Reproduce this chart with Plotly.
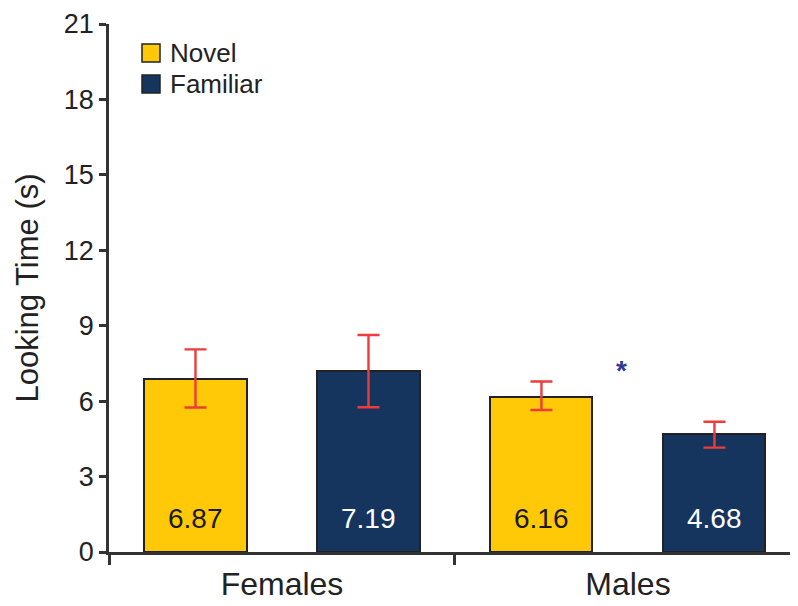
import plotly.graph_objects as go

groups = ["Females", "Males"]
conditions = ["Novel", "Familiar"]
novel_vals = [6.87, 6.16]
familiar_vals = [7.19, 4.68]
novel_err_plus = [1.19, 0.62]
novel_err_minus = [1.12, 0.51]
familiar_err_plus = [1.44, 0.50]
familiar_err_minus = [1.43, 0.53]
y_ticks = [0, 3, 6, 9, 12, 15, 18, 21]

# bar slot positions: group g -> novel at 2g+0.5, familiar at 2g+1.5
novel_x = [2 * i + 0.5 for i in range(len(groups))]
familiar_x = [2 * i + 1.5 for i in range(len(groups))]
group_x = [2 * i + 1 for i in range(len(groups))]

YELLOW = "#FFC907"
NAVY = "#15355F"
RED = "#EE3B3B"
OUTLINE = "#222222"
FONT = "Liberation Sans, Arial, sans-serif"

# page body has an 8px default margin
OFF = 8
W, H = 798 - OFF, 606 - OFF
ML, MR, MT = 109 - OFF, 0, 24 - OFF
PH = 528
MB = H - MT - PH
PW = W - ML - MR


def px_to_paper(xp, yp):
    return (xp - OFF - ML) / PW, (MT + PH - (yp - OFF)) / PH


fig = go.Figure()
err_style = dict(type="data", symmetric=False, color=RED, thickness=2.4, width=11)
fig.add_trace(go.Bar(
    x=novel_x, y=novel_vals, name=conditions[0], width=0.59, showlegend=False,
    marker=dict(color=YELLOW, line=dict(color=OUTLINE, width=2)),
    error_y=dict(array=novel_err_plus, arrayminus=novel_err_minus, **err_style),
))
fig.add_trace(go.Bar(
    x=familiar_x, y=familiar_vals, name=conditions[1], width=0.59, showlegend=False,
    marker=dict(color=NAVY, line=dict(color=OUTLINE, width=2)),
    error_y=dict(array=familiar_err_plus, arrayminus=familiar_err_minus, **err_style),
))
# invisible trace to activate xaxis2 labels
fig.add_trace(go.Scatter(x=group_x, y=[0, 0], xaxis="x2", mode="markers",
                         marker=dict(opacity=0), showlegend=False, hoverinfo="skip"))

# value labels near bar bases
for xs, vals, col in [(novel_x, novel_vals, "#1a1a1a"), (familiar_x, familiar_vals, "white")]:
    for xv, v in zip(xs, vals):
        fig.add_annotation(x=xv, y=1.35, text=f"{v:.2f}", showarrow=False,
                           font=dict(size=28, color=col, family=FONT),
                           xanchor="center", yanchor="middle")

# significance asterisk
fig.add_annotation(x=2.965, y=7.2, text="<b>*</b>", showarrow=False,
                   font=dict(size=28, color="#2B3A9C", family=FONT))

# custom legend (square swatches + labels)
shapes = []
for i, (name, col) in enumerate([(conditions[0], YELLOW), (conditions[1], NAVY)]):
    top = 44 + i * 31
    x0, y0 = px_to_paper(142, top + 18)
    x1, y1 = px_to_paper(160, top)
    shapes.append(dict(type="rect", xref="paper", yref="paper", x0=x0, x1=x1, y0=y0, y1=y1,
                       fillcolor=col, line=dict(color=OUTLINE, width=1.5)))
    tx, ty = px_to_paper(168, top + 9)
    fig.add_annotation(xref="paper", yref="paper", x=tx, y=ty, text=name, showarrow=False,
                       xanchor="left", yanchor="middle",
                       font=dict(size=26, family=FONT, color="#222222"))

fig.update_layout(
    width=W, height=H,
    margin=dict(l=ML, r=MR, t=MT, b=MB, autoexpand=False),
    paper_bgcolor="white", plot_bgcolor="white",
    font=dict(family=FONT, color="#222222"),
    showlegend=False,
    shapes=shapes,
    bargap=0,
    xaxis=dict(range=[0, 3.983], tickvals=[0, 2], ticktext=["", ""], automargin=False,
               showline=True, linecolor="#333333", linewidth=2.5,
               ticks="outside", ticklen=10, tickwidth=2.5, tickcolor="#333333",
               showgrid=False, zeroline=False, fixedrange=True),
    xaxis2=dict(range=[0, 3.983], overlaying="x", side="bottom", anchor="y",
                tickvals=group_x, ticktext=groups, ticks="", automargin=False,
                ticklabelstandoff=10,
                showline=False, showgrid=False, zeroline=False,
                tickfont=dict(size=32, family=FONT, color="#222222")),
    yaxis=dict(range=[0, 21], tickvals=y_ticks, showline=True, linecolor="#333333",
               linewidth=2.5, ticks="outside", ticklen=7, tickwidth=2.5, automargin=False,
               tickcolor="#333333", showgrid=False, zeroline=False,
               tickfont=dict(size=27, family=FONT, color="#222222"),
               title=dict(text="Looking Time (s)", font=dict(size=31, family=FONT, color="#222222"),
                          standoff=16)),
)

fig.write_html("out.html")
